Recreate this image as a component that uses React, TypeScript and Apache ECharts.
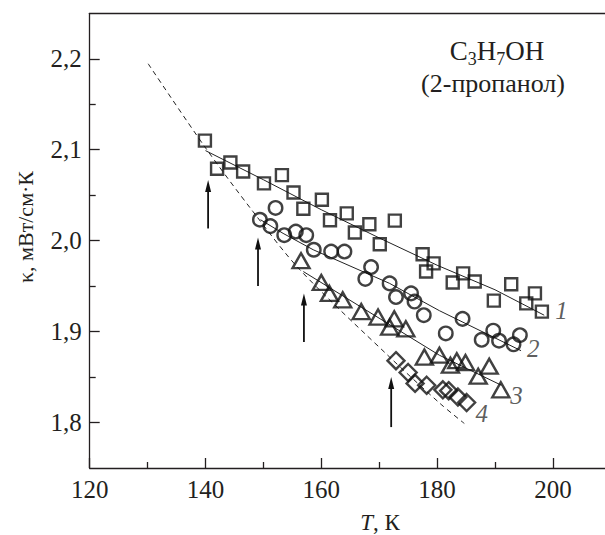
import React, { useEffect, useRef } from "react";
import * as echarts from "echarts";

// Axis ticks
const xTicks = [120, 140, 160, 180, 200];
const xMinorTicks = [130, 150, 170, 190];
const yTicks = [1.8, 1.9, 2.0, 2.1, 2.2];
const yMinorTicks = [1.85, 1.95, 2.05, 2.15];

// Series 1 (squares)
const s1T = [139.9, 142.0, 144.3, 146.5, 150.1, 153.2, 155.2, 156.9, 160.1, 161.5, 164.4, 165.8, 168.3, 170.1, 172.7, 177.5, 178.1, 179.4, 182.7, 184.5, 186.5, 189.8, 192.8, 195.4, 196.9, 198.1];
const s1K = [2.110, 2.079, 2.086, 2.076, 2.063, 2.072, 2.053, 2.035, 2.045, 2.0225, 2.030, 2.009, 2.018, 1.996, 2.022, 1.985, 1.966, 1.975, 1.954, 1.964, 1.955, 1.934, 1.952, 1.931, 1.942, 1.922];

// Series 2 (circles)
const s2T = [149.4, 151.2, 152.1, 153.6, 155.6, 157.4, 158.7, 161.7, 164.0, 167.6, 168.6, 171.8, 172.9, 175.5, 176.1, 177.7, 181.5, 184.4, 187.7, 189.7, 190.7, 193.2, 194.3];
const s2K = [2.023, 2.016, 2.036, 2.006, 2.010, 2.006, 1.990, 1.988, 1.988, 1.958, 1.971, 1.953, 1.938, 1.942, 1.933, 1.918, 1.898, 1.914, 1.891, 1.901, 1.890, 1.886, 1.896];

// Series 3 (triangles)
const s3T = [156.5, 160.0, 161.4, 163.7, 166.9, 169.8, 172.6, 171.8, 174.6, 177.8, 180.4, 182.3, 183.4, 184.9, 187.1, 189.0, 191.0];
const s3K = [1.978, 1.954, 1.942, 1.935, 1.922, 1.916, 1.914, 1.905, 1.903, 1.872, 1.874, 1.863, 1.868, 1.866, 1.851, 1.862, 1.836];

// Series 4 (diamonds)
const s4T = [172.9, 175.0, 176.2, 178.2, 181.0, 182.0, 183.6, 185.1];
const s4K = [1.868, 1.855, 1.843, 1.841, 1.836, 1.835, 1.828, 1.822];

// Fitted solid lines
const fit1T = [140.0, 150.0, 160.0, 170.0, 180.0, 190.0, 198.5];
const fit1K = [2.099, 2.067, 2.034, 2.003, 1.973, 1.946, 1.918];
const fit2T = [149.5, 153.4, 158.6, 171.8, 180.4, 194.5];
const fit2K = [2.023, 2.008, 1.990, 1.953, 1.923, 1.879];
const fit3T = [156.9, 180.4, 191.1];
const fit3K = [1.966, 1.874, 1.841];

// Dashed envelope
const dashT = [130.1, 139.9, 148.2, 156.3, 171.8, 180.5, 184.7];
const dashK = [2.1945, 2.103, 2.032, 1.968, 1.872, 1.821, 1.799];

// Arrows
const arrowT = [140.45, 149.07, 157.0, 172.07];
const arrowFrom = [2.0134, 1.950, 1.8885, 1.795];
const arrowTo = [2.0667, 2.0035, 1.9418, 1.850];

// Curve numbers
const labelT = [201.5, 196.6, 193.7, 187.7];
const labelK = [1.923, 1.881, 1.830, 1.810];
const labelText = ["1", "2", "3", "4"];

const FONT = "Liberation Serif";
const INK = "#231f20";

const zip = (a: number[], b: number[]) => a.map((v, i) => [v, b[i]]);

export default function App() {
  const ref = useRef<HTMLDivElement>(null);
  useEffect(() => {
    document.body.style.margin = "0";
    if (!ref.current) return;
    const chart = echarts.init(ref.current, undefined, { renderer: "svg" });

    const xMin = 120, xMax = 209, yMin = 1.75, yMax = 2.25;
    const axisLine = { show: true, lineStyle: { color: INK, width: 1.3 } };
    const labelStyle = { fontFamily: FONT, fontSize: 25, color: INK };

    const markerBase = {
      type: "scatter" as const,
      itemStyle: { color: "transparent", borderColor: "#111", borderWidth: 2.4 },
      z: 5,
    };

    // formula pieces: main letters and subscripts laid out left to right
    const mainSize = 27, subSize = 18;
    const pieces: { t: string; sub: boolean; w: number }[] = [
      { t: "C", sub: false, w: 0.667 * mainSize },
      { t: "3", sub: true, w: 0.5 * subSize },
      { t: "H", sub: false, w: 0.722 * mainSize },
      { t: "7", sub: true, w: 0.5 * subSize },
      { t: "OH", sub: false, w: 1.444 * mainSize },
    ];
    const totalW = pieces.reduce((s, p) => s + p.w, 0);
    let cx = 497 - totalW / 2;
    const formula = pieces.map((p) => {
      const el = {
        type: "text", x: cx, y: p.sub ? 58.8 : 50.9,
        style: {
          text: p.t, fontFamily: FONT, fontSize: p.sub ? subSize : mainSize, fill: INK,
          lineHeight: p.sub ? 13 : 22,
          textAlign: "left", textVerticalAlign: "middle",
        },
      };
      cx += p.w;
      return el;
    });

    chart.setOption({
      animation: false,
      backgroundColor: "#fff",
      grid: { left: 89.7, top: 13.3, width: 517.1, height: 454.7 },
      xAxis: [
        {
          type: "value", min: xMin, max: xMax, position: "bottom",
          axisLine,
          axisTick: { show: true, inside: true, length: 10, customValues: xTicks, lineStyle: { color: INK, width: 1.3 } },
          axisLabel: { show: true, customValues: xTicks, margin: 9, ...labelStyle },
          splitLine: { show: false },
        },
        {
          type: "value", min: xMin, max: xMax, position: "bottom",
          axisLine: { show: false },
          axisTick: { show: true, inside: true, length: 6, customValues: xMinorTicks, lineStyle: { color: INK, width: 1.3 } },
          axisLabel: { show: false },
          splitLine: { show: false },
        },
        {
          type: "value", min: xMin, max: xMax, position: "top",
          axisLine,
          axisTick: { show: false },
          axisLabel: { show: false },
          splitLine: { show: false },
        },
      ],
      yAxis: [
        {
          type: "value", min: yMin, max: yMax, position: "left",
          axisLine,
          axisTick: { show: true, inside: true, length: 10, customValues: yTicks, lineStyle: { color: INK, width: 1.3 } },
          axisLabel: {
            show: true, customValues: yTicks, margin: 8, ...labelStyle,
            formatter: (v: number) => v.toFixed(1).replace(".", ","),
          },
          splitLine: { show: false },
        },
        {
          type: "value", min: yMin, max: yMax, position: "left",
          axisLine: { show: false },
          axisTick: { show: true, inside: true, length: 6, customValues: yMinorTicks, lineStyle: { color: INK, width: 1.3 } },
          axisLabel: { show: false },
          splitLine: { show: false },
        },
      ],
      series: [
        {
          type: "line", data: zip(dashT, dashK), smooth: 0.3, symbol: "none",
          lineStyle: { color: "#222", width: 1, type: [5, 4] }, z: 2,
        },
        { type: "line", data: zip(fit1T, fit1K), symbol: "none", lineStyle: { color: "#222", width: 1 }, z: 2 },
        { type: "line", data: zip(fit2T, fit2K), symbol: "none", lineStyle: { color: "#222", width: 1 }, z: 2 },
        { type: "line", data: zip(fit3T, fit3K), symbol: "none", lineStyle: { color: "#222", width: 1 }, z: 2 },
        { ...markerBase, data: zip(s1T, s1K), symbol: "rect", symbolSize: 12 },
        { ...markerBase, data: zip(s2T, s2K), symbol: "circle", symbolSize: 13.5 },
        { ...markerBase, data: zip(s3T, s3K), symbol: "triangle", symbolSize: [17, 15] },
        { ...markerBase, data: zip(s4T, s4K), symbol: "diamond", symbolSize: [17, 17] },
        {
          type: "custom",
          data: arrowT.map((t, i) => [t, arrowFrom[i], arrowTo[i]]),
          renderItem: (params: any, api: any) => {
            const p0 = api.coord([api.value(0), api.value(1)]);
            const p1 = api.coord([api.value(0), api.value(2)]);
            const headLen = 12, headW = 3;
            return {
              type: "group",
              children: [
                {
                  type: "line",
                  shape: { x1: p0[0], y1: p0[1], x2: p1[0], y2: p1[1] + headLen - 2 },
                  style: { stroke: "#111", lineWidth: 1.8 },
                },
                {
                  type: "polygon",
                  shape: { points: [[p1[0], p1[1]], [p1[0] - headW, p1[1] + headLen], [p1[0] + headW, p1[1] + headLen]] },
                  style: { fill: "#111" },
                },
              ],
            };
          },
          z: 6,
        },
        {
          type: "scatter",
          data: labelT.map((t, i) => [t, labelK[i], labelText[i]]),
          symbolSize: 1,
          itemStyle: { color: "transparent" },
          label: {
            show: true, position: "inside",
            formatter: (p: any) => p.data[2],
            fontFamily: FONT, fontStyle: "italic", fontSize: 25, color: "#333",
          },
          z: 7,
        },
      ],
      graphic: [
        {
          type: "text", x: 25, y: 227, rotation: Math.PI / 2,
          style: {
            text: "κ, мВт/см·К", fontFamily: FONT, fontSize: 22, fill: INK,
            textAlign: "center", textVerticalAlign: "middle",
          },
        },
        {
          type: "text", x: 380, y: 522,
          style: {
            text: "{i|T}{n|, К}", fill: INK, textAlign: "center", textVerticalAlign: "middle",
            rich: {
              i: { fontFamily: FONT, fontSize: 23, fontStyle: "italic", fill: INK, lineHeight: 20 },
              n: { fontFamily: FONT, fontSize: 23, fill: INK, lineHeight: 20 },
            },
          },
        },
        ...formula,
        {
          type: "text", x: 493, y: 83,
          style: {
            text: "(2-пропанол)", fontFamily: FONT, fontSize: 26, fill: INK, lineHeight: 22,
            textAlign: "center", textVerticalAlign: "middle",
          },
        },
      ],
    });
    return () => chart.dispose();
  }, []);
  return <div ref={ref} style={{ width: 605, height: 535 }} />;
}
